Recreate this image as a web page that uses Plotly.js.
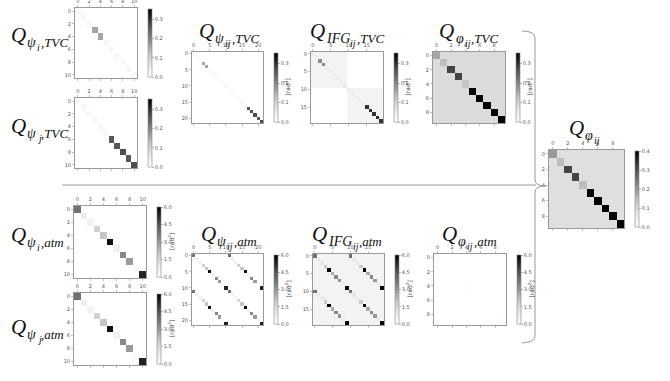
<!DOCTYPE html>
<html><head><meta charset="utf-8">
<script src="https://cdn.plot.ly/plotly-3.0.1.min.js"></script>
<style>html,body{margin:0;padding:0;background:#fff;}#chart{width:670px;height:381px;}</style>
</head><body><div id="chart"></div>
<script>
// ---------- data ----------
const psiI_TVC_diag = [0.02,0.02,0.02,0.16,0.16,0.02,0.02,0.02,0.02,0.02,0.02];
const psiJ_TVC_diag = [0.02,0.02,0.02,0.02,0.02,0.02,0.26,0.26,0.27,0.26,0.27];
const ifgI_TVC_diag = [0.05,0.05,0.19,0.19,0.05,0.05,0.05,0.05,0.05,0.05];
const ifgJ_TVC_diag = [0.05,0.05,0.05,0.05,0.05,0.30,0.30,0.30,0.30,0.30];
const ifg_TVC_blockBg = 0.035;
const phi_TVC_diag = [0.16,0.13,0.28,0.28,0.12,0.35,0.35,0.35,0.35,0.35];
const phi_TVC_bg = 0.085;
const phi_diag = [0.195,0.15,0.315,0.315,0.15,0.40,0.40,0.40,0.40,0.40];
const phi_bg = 0.088;
const psiI_atm_diag = [3.8,0.8,0.6,1.7,2.0,5.7,0.7,3.3,2.9,0.3,5.3];
const psiJ_atm_diag = [3.8,0.8,0.6,1.7,2.0,5.7,0.7,3.3,2.9,0.3,5.3];
const psiIJ_atm_cross = [3.8,0.8,0.6,1.7,2.0,5.7,0.7,3.3,2.9,0.3,5.3];
const ifg_atm_diag = [3.8,1.1,1.0,1.9,6.0,2.6,3.3,3.0,0.9,6.0];
const ifg_atm_bg = 0.6;
const phi_atm_diag = [0.1,0,0,0,0.1,0,0,0,0,0.08];

const ticks11 = [0,2,4,6,8,10];
const ticks22 = [0,5,10,15,20];
const ticks20 = [0,5,10,15];
const ticks10 = [0,2,4,6,8];
const cbTVC = [0,0.1,0.2,0.3];
const cbPhi = [0,0.1,0.2,0.3,0.4];
const cbAtm = [0,1.5,3,4.5,6];
const unitLabel = '[rad<sup>2</sup>]';

// ---------- matrix helpers ----------
function zeros(n,v){return Array.from({length:n},()=>Array(n).fill(v||0));}
function diagM(d,bg){const m=zeros(d.length,bg);d.forEach((v,i)=>m[i][i]=v);return m;}
function blocks(dA,dB,cross,bgIn,bgOut){
  const n=dA.length,m=zeros(2*n,bgOut);
  for(let i=0;i<2*n;i++)for(let j=0;j<2*n;j++){
    const same=(i<n)===(j<n); m[i][j]=same?bgIn:bgOut;}
  for(let i=0;i<n;i++){m[i][i]=dA[i];m[n+i][n+i]=dB[i];
    if(cross){m[i][n+i]=cross[i];m[n+i][i]=cross[i];}}
  return m;}

const greys=[[0,'#ffffff'],[0.125,'#f0f0f0'],[0.25,'#d9d9d9'],[0.375,'#bdbdbd'],[0.5,'#969696'],[0.625,'#737373'],[0.75,'#525252'],[0.875,'#252525'],[1,'#000000']];

const W=670,H=381;
const panels=[
 {z:diagM(psiI_TVC_diag,0),box:[75,8,137,78],ticks:ticks11,zmax:0.355,cb:cbTVC,lab:false},
 {z:diagM(psiJ_TVC_diag,0),box:[75,98,137,168],ticks:ticks11,zmax:0.355,cb:cbTVC,lab:false},
 {z:blocks(psiI_TVC_diag,psiJ_TVC_diag,null,0,0),box:[192,52,263,123],ticks:ticks22,zmax:0.355,cb:cbTVC,lab:true},
 {z:blocks(ifgI_TVC_diag,ifgJ_TVC_diag,null,ifg_TVC_blockBg,0),box:[311,52,383,123],ticks:ticks20,zmax:0.355,cb:cbTVC,lab:true},
 {z:diagM(phi_TVC_diag,phi_TVC_bg),box:[433,52,505,123],ticks:ticks10,zmax:0.355,cb:cbTVC,lab:true},
 {z:diagM(phi_diag,phi_bg),box:[549,150,624,228],ticks:ticks10,zmax:0.4,cb:cbPhi,lab:false},
 {z:diagM(psiI_atm_diag,0),box:[74,206,146,278],ticks:ticks11,zmax:6,cb:cbAtm,lab:true},
 {z:diagM(psiJ_atm_diag,0),box:[74,293,146,365],ticks:ticks11,zmax:6,cb:cbAtm,lab:true},
 {z:blocks(psiI_atm_diag,psiJ_atm_diag,psiIJ_atm_cross,0,0),box:[192,254,263,325],ticks:ticks22,zmax:6,cb:cbAtm,lab:true},
 {z:blocks(ifg_atm_diag,ifg_atm_diag,ifg_atm_diag,ifg_atm_bg,ifg_atm_bg),box:[313,254,384,325],ticks:ticks20,zmax:6,cb:cbAtm,lab:true},
 {z:diagM(phi_atm_diag,0),box:[434,254,506,325],ticks:ticks10,zmax:6,cb:cbAtm,lab:true}
];

const data=[],layout={width:W,height:H,margin:{l:0,r:0,t:0,b:0},paper_bgcolor:'#fff',plot_bgcolor:'#fff',showlegend:false,annotations:[],shapes:[]};
const TICKF={family:'DejaVu Sans',size:5,color:'#555'};
const axCommon={showgrid:false,zeroline:false,showline:true,linecolor:'#999',linewidth:1,ticks:'outside',ticklen:2,tickwidth:0.6,tickcolor:'#999',tickfont:TICKF,fixedrange:true};
panels.forEach((p,k)=>{
  const n=p.z.length, id=k+1, xa='x'+(id>1?id:''), ya='y'+(id>1?id:'');
  const [x0,y0,x1,y1]=p.box;
  layout['xaxis'+(id>1?id:'')]=Object.assign({},axCommon,{domain:[x0/W,x1/W],range:[-0.5,n-0.5],side:'top',tickvals:p.ticks,mirror:'ticks',anchor:ya});
  layout['yaxis'+(id>1?id:'')]=Object.assign({},axCommon,{domain:[1-y1/H,1-y0/H],range:[n-0.5,-0.5],tickvals:p.ticks,mirror:true,anchor:xa});
  const cbx=x1+11;
  const cb={x:cbx/W,xanchor:'left',y:1-(y0+y1)/2/H,yanchor:'middle',len:(y1-y0-2)/H,lenmode:'fraction',thickness:4,thicknessmode:'pixels',xpad:0,ypad:0,
    outlinewidth:0.6,outlinecolor:'#888',ticks:'outside',ticklen:2,tickwidth:0.6,tickcolor:'#888',tickvals:p.cb,tickformat:'.1f',tickfont:TICKF};
  data.push({type:'heatmap',z:p.z,xaxis:xa,yaxis:ya,colorscale:greys,zmin:0,zmax:p.zmax,zsmooth:false,colorbar:cb,hoverinfo:'skip'});
  if(p.lab) layout.annotations.push({xref:'paper',yref:'paper',x:(cbx+14)/W,y:1-(y0+y1)/2/H,xanchor:'center',yanchor:'middle',textangle:-90,
    text:unitLabel,showarrow:false,font:{family:'DejaVu Sans',size:6,color:'#444'},borderpad:0});
});

// ---------- titles built from pieces (measured with canvas) ----------
const ctx=document.createElement('canvas').getContext('2d');
const FAM='Liberation Serif';
function tw(t,s){ctx.font='italic '+s+'px "'+FAM+'"';return ctx.measureText(t).width;}
function mathTitle(base,subsub,tail,x,yb,anchor){
  const parts=[{t:'Q',s:21,d:0,g:1},{t:base,s:14,d:5,g:1.3},{t:subsub,s:10,d:9,g:1.2},{t:tail,s:13,d:5,g:0}].filter(p=>p.t);
  const total=parts.reduce((a,p)=>a+tw(p.t,p.s)+p.g,0);
  let cur= anchor==='left'?x:x-total/2;
  parts.forEach(p=>{
    layout.annotations.push({xref:'paper',yref:'paper',x:cur/W,y:1-(yb+p.d-0.32*p.s)/H,xanchor:'left',yanchor:'middle',
      text:'<i>'+p.t+'</i>',showarrow:false,borderpad:0,borderwidth:0,font:{family:FAM,size:p.s,color:'#111'}});
    cur+=tw(p.t,p.s)+p.g;
  });
}
mathTitle('ψ','i',',TVC',11,42,'left');
mathTitle('ψ','j',',TVC',11,133,'left');
mathTitle('ψ','ij',',TVC',229,38);
mathTitle('IFG','ij',',TVC',347,38);
mathTitle('φ','ij',',TVC',469,38);
mathTitle('φ','ij','',585,135);
mathTitle('ψ','i',',atm',11,242,'left');
mathTitle('ψ','j',',atm',11,334,'left');
mathTitle('ψ','ij',',atm',229,241);
mathTitle('IFG','ij',',atm',347,241);
mathTitle('φ','ij',',atm',469,241);

// ---------- separator line and bracket ----------
function P(x,y){return (x/W).toFixed(5)+','+(1-y/H).toFixed(5);}
layout.shapes.push({type:'line',xref:'paper',yref:'paper',x0:62/W,x1:536/W,y0:1-185/H,y1:1-185/H,line:{color:'#999',width:1}});
layout.shapes.push({type:'path',xref:'paper',yref:'paper',line:{color:'#999',width:1},
  path:'M'+P(522,31)+' Q'+P(535,31)+' '+P(535,38)+' L'+P(535,180)+' Q'+P(535,186)+' '+P(546,186)+' Q'+P(535,186)+' '+P(535,192)+' L'+P(535,336)+' Q'+P(535,342)+' '+P(522,343)});

Plotly.newPlot('chart',data,layout,{staticPlot:true});
</script></body></html>
